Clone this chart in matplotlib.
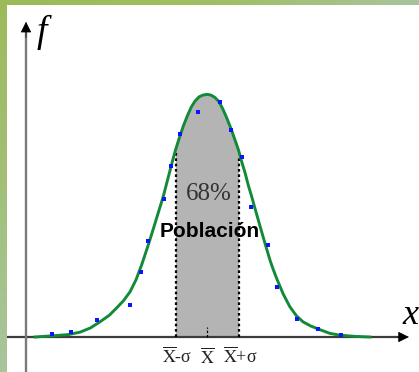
import numpy as np
import matplotlib
matplotlib.use("Agg")
import matplotlib.pyplot as plt
from matplotlib.colors import LinearSegmentedColormap
from matplotlib import font_manager

plt.rcParams['mathtext.fontset'] = 'stix'

# ---- data (x in units of sigma from the mean, f = relative frequency) ----
curve_x = [-5.46, -4.89, -4.40, -4.03, -3.70, -3.40, -3.10, -2.87, -2.65, -2.44,
           -2.25, -2.07, -1.91, -1.78, -1.65, -1.52, -1.39, -1.28, -1.18, -1.09,
           -1.00, -0.88, -0.75, -0.62, -0.50, -0.38, -0.25, -0.12, 0.00, 0.12,
           0.25, 0.38, 0.50, 0.62, 0.75, 0.88, 1.00, 1.10, 1.21, 1.31,
           1.42, 1.52, 1.63, 1.74, 1.84, 2.00, 2.10, 2.21, 2.42, 2.63,
           2.84, 3.05, 3.30, 3.59, 3.90, 4.22, 4.70, 5.17]
curve_f = [0.000, 0.002, 0.004, 0.008, 0.015, 0.025, 0.036, 0.048, 0.060, 0.075,
           0.095, 0.120, 0.145, 0.166, 0.188, 0.210, 0.232, 0.254, 0.274, 0.292,
           0.309, 0.329, 0.349, 0.366, 0.380, 0.390, 0.397, 0.400, 0.401, 0.400,
           0.396, 0.389, 0.377, 0.363, 0.346, 0.327, 0.309, 0.290, 0.271, 0.251,
           0.232, 0.213, 0.193, 0.173, 0.155, 0.127, 0.112, 0.097, 0.071, 0.050,
           0.035, 0.025, 0.018, 0.012, 0.006, 0.003, 0.001, 0.000]

obs_x = [-4.93, -4.32, -3.50, -2.44, -2.10, -1.88, -1.36, -1.14, -0.86, -0.30,
         0.41, 0.76, 1.11, 1.40, 1.93, 2.21, 2.87, 3.53, 4.25]
obs_f = [0.005, 0.008, 0.028, 0.053, 0.107, 0.159, 0.228, 0.283, 0.335, 0.372,
         0.389, 0.342, 0.298, 0.215, 0.152, 0.083, 0.030, 0.014, 0.003]

sigma_lo, mean_x, sigma_hi = -1.0, 0.0, 1.0
tick_labels = [r'$\overline{\mathrm{X}}$-σ', r'$\overline{\mathrm{X}}$', r'$\overline{\mathrm{X}}$+σ']
pct_label = '68%'
pop_label = 'Población'

cx = np.array(curve_x)
cf = np.array(curve_f)

# pick a narrow bold sans if available
try:
    font_manager.findfont(font_manager.FontProperties(family='Liberation Sans Narrow', weight='bold'),
                          fallback_to_default=False)
    pop_family, pop_size = 'Liberation Sans Narrow', 17
except Exception:
    pop_family, pop_size = 'Liberation Sans', 15

fig = plt.figure(figsize=(4.19, 3.72), dpi=100)
fig.patch.set_facecolor('white')
ax = fig.add_axes([0, 0, 1, 1])
ax.set_xlim(-207 / 31.5, (419 - 207) / 31.5)
ax.set_ylim((337 - 372) / 605, 337 / 605)
ax.axis('off')

# shaded 68% area
mask = (cx >= sigma_lo) & (cx <= sigma_hi)
ax.fill_between(cx[mask], 0, cf[mask], color='#b4b4b4', lw=0, zorder=1)
top_lo = cf[np.where(cx == sigma_lo)[0][0]]
top_hi = cf[np.where(cx == sigma_hi)[0][0]]
ax.plot([sigma_lo, sigma_lo], [0, top_lo * 0.99], color='black', lw=1.6, ls=(0, (1.2, 1.2)), zorder=3)
ax.plot([sigma_hi, sigma_hi], [0, top_hi * 0.965], color='black', lw=1.6, ls=(0, (1.2, 1.2)), zorder=3)
ax.plot([mean_x, mean_x], [0, 0.017], color='black', lw=0.9, ls=(0, (2, 1.5)), zorder=3)

# axes lines
x_lo, x_hi = ax.get_xlim()
y_lo, y_hi = ax.get_ylim()
ax.plot([x_lo + 0.19, 6.15], [0, 0], color='#3c3c3c', lw=1.6, zorder=2, solid_capstyle='butt')
ax.annotate('', xy=(6.41, 0), xytext=(6.05, 0),
            arrowprops=dict(arrowstyle='-|>', color='black', lw=0.5,
                            shrinkA=0, shrinkB=0, mutation_scale=17), zorder=4)
yx = (26 - 207) / 31.5
ax.plot([yx, yx], [y_lo, 0.505], color='#7a7a7a', lw=1.7, zorder=2, solid_capstyle='butt')
ax.annotate('', xy=(yx, 0.521), xytext=(yx, 0.495),
            arrowprops=dict(arrowstyle='-|>', color='black', lw=0.5,
                            shrinkA=0, shrinkB=0, mutation_scale=17), zorder=4)

# curve and observed points
ax.plot(cx, cf, color='#128a38', lw=2.1, zorder=5, solid_joinstyle='round')
ax.scatter(obs_x, obs_f, marker='s', s=8, color='#0a14ff', zorder=6, linewidths=0)

# tick labels under x axis
for xv, lab in zip([sigma_lo, mean_x, sigma_hi], tick_labels):
    ax.text(xv + (0.05 if xv != 0 else 0.03), -0.033, lab, ha='center', va='center',
            fontsize=13, family='Liberation Serif', color='#222222', zorder=6)

ax.text(0.06, 0.236, pct_label, ha='center', va='center', fontsize=18,
        family='Liberation Serif', color='#333333', zorder=6)
ax.text(0.1, 0.175, pop_label, ha='center', va='center', fontsize=pop_size,
        family=pop_family, fontweight='bold', color='black', zorder=6)

# axis letters
ax.text(42 / 419, 1 - 32 / 372, 'f', transform=ax.transAxes, ha='center', va='center',
        fontsize=27, family='Liberation Serif', style='italic', color='black')
ax.text(410 / 419, 1 - 316 / 372, 'x', transform=ax.transAxes, ha='center', va='center',
        fontsize=26, family='Liberation Serif', style='italic', color='black')

# green frame bands
cm_top = LinearSegmentedColormap.from_list('top', ['#9bbb59', '#9fbf62', '#a8c49c'])
cm_left = LinearSegmentedColormap.from_list('left', ['#9bbb59', '#a2c07a', '#a9c59c'])
grad = np.linspace(0, 1, 256)
axt = fig.add_axes([0, 1 - 5 / 372, 1, 5 / 372])
axt.imshow(grad[None, :], aspect='auto', cmap=cm_top, extent=(0, 1, 0, 1))
axt.axis('off')
axl = fig.add_axes([0, 0, 6 / 419, 1])
axl.imshow(grad[:, None], aspect='auto', cmap=cm_left, extent=(0, 1, 0, 1), origin='upper')
axl.axis('off')

fig.savefig('out.png', dpi=100, facecolor='white')
